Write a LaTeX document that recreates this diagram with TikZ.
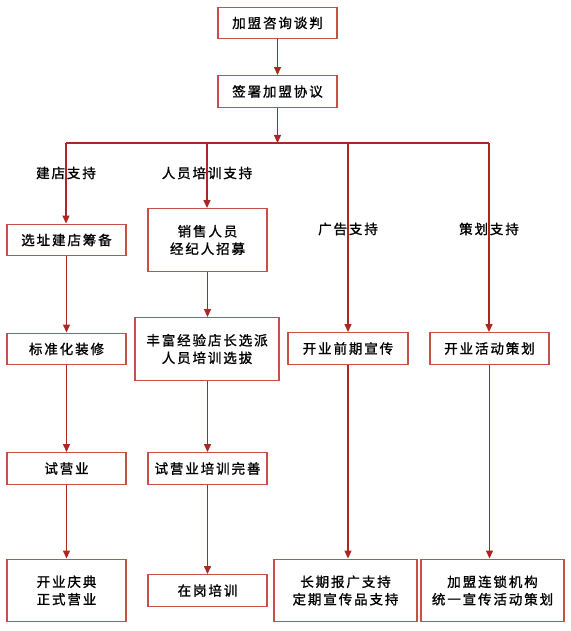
\documentclass[tikz,border=0pt]{standalone}
\usepackage{fontspec}
\usepackage{xcolor}
\usetikzlibrary{arrows.meta, positioning}
\newfontfamily\cjk[LetterSpace=14, FakeBold=1.2]{Noto Sans CJK SC}
\definecolor{boxred}{RGB}{196,80,72}
\definecolor{linered}{RGB}{170,40,36}

\begin{document}
\begin{tikzpicture}[x=1pt, y=-1pt,
  >={Triangle[length=8pt, width=7pt]},
  stage/.style={draw=boxred, line width=1.4pt, fill=white, font=\cjk\fontsize{13.5}{17.5}\selectfont,
    align=center, inner sep=0pt, minimum width=119pt, minimum height=31.5pt},
  tall/.style={stage, minimum height=62.5pt},
  flow/.style={draw=linered, line width=1.3pt},
  tag/.style={font=\cjk\fontsize{13.5}{17}\selectfont, inner sep=0pt}]
\useasboundingbox (0,0) rectangle (570,631);
% top of the chart
\node[stage] (talk) at (277.5,23) {加盟咨询谈判};
\node[stage] (sign) at (277.5,91.5) {签署加盟协议};
\coordinate (split) at (277.5,143);
\coordinate (left) at (66,143);
\coordinate (right) at (489,143);
\coordinate (staff) at (207,143);
\coordinate (ad) at (348,143);
% store support
\node[stage] (site) at (66.5,240) {选址建店筹备};
\node[stage] (decor) at (66.5,349) {标准化装修};
\node[stage] (trial) at (66.5,468.5) {试营业};
\node[tall] (open) at (66.5,590.5) {开业庆典\\正式营业};
% staff training
\node[tall] (hire) at (207.5,240) {销售人员\\经纪人招募};
\node[tall, minimum width=144pt] (pick) at (207,349) {丰富经验店长选派\\人员培训选拔};
\node[stage] (refine) at (207.5,468.5) {试营业培训完善};
\node[stage] (onjob) at (207.5,590.5) {在岗培训};
% advertising
\node[stage, minimum width=120pt] (promo) at (348,348.5) {开业前期宣传};
\node[tall, minimum width=143pt] (media) at (345.5,590.5) {长期报广支持\\定期宣传品支持};
% planning
\node[stage] (event) at (489.5,348.5) {开业活动策划};
\node[tall, minimum width=143pt] (chain) at (492.5,590.5) {加盟连锁机构\\统一宣传活动策划};
% connectors
\draw[flow, ->] (talk) -- (sign);
\draw[flow, ->] (sign) -- (split);
\draw[flow] (left) -- (right);
\draw[flow, ->] (left) -- (left |- site.north);
\draw[flow, ->] (staff) -- (staff |- hire.north);
\draw[flow, ->] (ad) -- (ad |- promo.north);
\draw[flow, ->] (right) -- (right |- event.north);
\draw[flow, ->] (site) -- (decor);
\draw[flow, ->] (decor) -- (trial);
\draw[flow, ->] (trial) -- (open);
\draw[flow, ->] (hire) -- (hire |- pick.north);
\draw[flow, ->] (hire |- pick.south) -- (refine);
\draw[flow, ->] (refine) -- (onjob);
\draw[flow, ->] (promo) -- (promo |- media.north);
\draw[flow, ->] (event) -- (event |- chain.north);
% branch labels
\node[tag] (tstore) at (66,173) {建店支持};
\node[tag] (tstaff) at (207,173) {人员培训支持};
\node[tag] (tad) at (348,229) {广告支持};
\node[tag] (tplan) at (489,229) {策划支持};
\end{tikzpicture}
\end{document}
